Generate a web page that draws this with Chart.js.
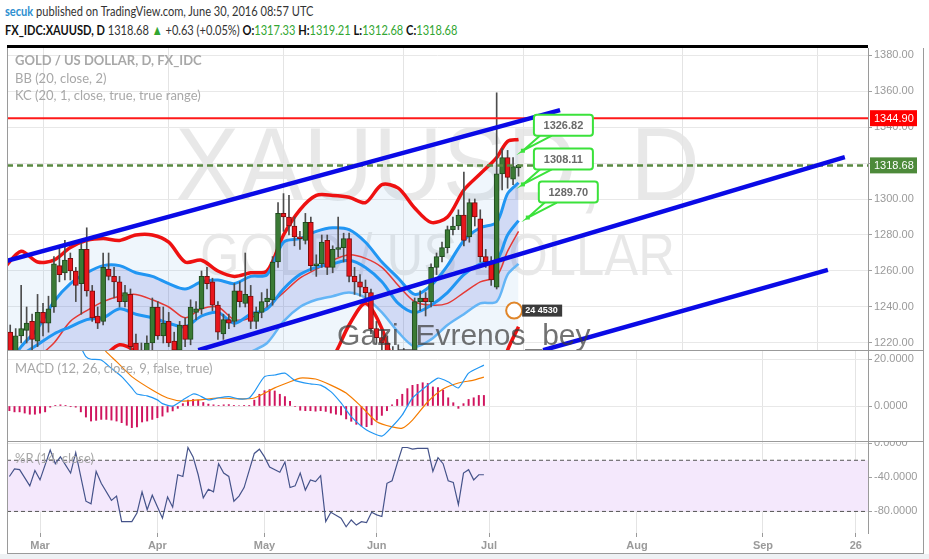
<!DOCTYPE html>
<html>
<head>
<meta charset="utf-8">
<title>XAUUSD daily</title>
<script src="https://cdn.jsdelivr.net/npm/chart.js@4.4.1/dist/chart.umd.min.js"></script>
<style>
  body { margin: 0; width: 929px; height: 559px; position: relative; overflow: hidden; background: #fff; font-family: Lato, "Open Sans", sans-serif; }
  .abs { position: absolute; }
  .pane { position: absolute; left: 7px; width: 916px; }
  .hdr { position: absolute; left: 5px; white-space: nowrap; font-size: 14px; color: #333; transform: scaleX(0.79); transform-origin: 0 0; }
  .hdr .user { color: #2e8fd0; font-weight: bold; }
  .hdr b { color: #111; }
  .hdr .g { color: #32a632; }
  .title { position: absolute; left: 15px; color: #a8a8a8; font-size: 13px; white-space: nowrap; z-index: 5; }
  .rule { position: absolute; background: #9a9a9a; z-index: 6; }
</style>
</head>
<body>
<div class="hdr" style="top:2px"><span class="user">secuk</span> published on TradingView.com, June 30, 2016 08:57 UTC</div>
<div class="hdr" style="top:21px"><b>FX_IDC:XAUUSD, D</b> 1318.68 <span class="g">&#9650;</span> +0.63 (+0.05%) <b>O:</b><span class="g">1317.33</span> <b>H:</b><span class="g">1319.21</span> <b>L:</b><span class="g">1312.68</span> <b>C:</b><span class="g">1318.68</span></div>

<div class="abs" style="left:7px;top:45px;width:861px;height:3px;background:#000;z-index:7"></div>
<div class="pane" style="top:48px;height:302px"><canvas id="priceChart" width="916" height="302"></canvas></div>
<div class="pane" style="top:350px;height:91px"><canvas id="macdChart" width="916" height="91"></canvas></div>
<div class="pane" style="top:441px;height:112px"><canvas id="wrChart" width="916" height="112"></canvas></div>

<div class="title" style="top:52px;font-weight:bold">GOLD / US DOLLAR, D, FX_IDC</div>
<div class="title" style="top:70px">BB (20, close, 2)</div>
<div class="title" style="top:87px">KC (20, 1, close, true, true range)</div>
<div class="title" style="top:360px">MACD (12, 26, close, 9, false, true)</div>
<div class="title" style="top:450px">%R (14, close)</div>

<div class="rule" style="left:7px;top:48px;width:1px;height:505px"></div>
<div class="rule" style="left:923px;top:48px;width:1px;height:505px"></div>
<div class="rule" style="left:7px;top:350px;width:916px;height:1px"></div>
<div class="rule" style="left:7px;top:441px;width:916px;height:1px"></div>
<div class="rule" style="left:7px;top:553px;width:917px;height:1px"></div>
<div class="abs" style="left:0;top:554px;width:929px;height:5px;background:#eef1f4"></div>

<script>
// Trading-day index: 0 = 1 Mar 2016, 23 = 1 Apr, 44 = 2 May, 66 = 1 Jun, 88 = 1 Jul
const firstBar = -6;

const opens = [1226, 1215, 1224, 1227, 1232, 1221,
  1237, 1231, 1240, 1263, 1259, 1267, 1260, 1253, 1272, 1249,
  1235, 1232, 1261, 1257, 1254, 1243, 1247, 1220, 1216, 1212,
  1220, 1240, 1224, 1232, 1221, 1216, 1230, 1222, 1237, 1239,
  1257, 1254, 1241, 1225, 1233, 1232, 1249, 1242, 1246, 1232,
  1237, 1243, 1244, 1265, 1292, 1290, 1285, 1279, 1277, 1287,
  1263, 1264, 1277, 1262, 1272, 1273, 1278, 1257, 1254, 1251,
  1248, 1228, 1223, 1220, 1214, 1208, 1215, 1211, 1210, 1243,
  1245, 1243, 1262, 1268, 1273, 1283, 1285, 1291, 1279, 1298,
  1289, 1268, 1265, 1251, 1314, 1323, 1311, 1317.33];
const highs = [1230, 1228, 1252, 1240, 1236, 1247,
  1242, 1246, 1268, 1274, 1277, 1270, 1262, 1276, 1284, 1252,
  1240, 1270, 1270, 1262, 1257, 1252, 1250, 1225, 1220, 1224,
  1245, 1243, 1240, 1237, 1226, 1232, 1234, 1244, 1243, 1260,
  1262, 1256, 1243, 1236, 1236, 1253, 1254, 1270, 1252, 1240,
  1248, 1250, 1268, 1298, 1303, 1302, 1290, 1282, 1292, 1290,
  1269, 1280, 1280, 1274, 1290, 1281, 1281, 1262, 1258, 1255,
  1250, 1232, 1227, 1224, 1218, 1219, 1217, 1214, 1245, 1249,
  1248, 1264, 1270, 1276, 1285, 1290, 1294, 1315, 1300, 1300,
  1294, 1272, 1268, 1359, 1328, 1327, 1323, 1319.21];
const lows = [1212, 1212, 1220, 1220, 1215, 1218,
  1224, 1226, 1237, 1254, 1255, 1255, 1243, 1236, 1246, 1232,
  1228, 1230, 1255, 1245, 1240, 1240, 1215, 1212, 1208, 1208,
  1215, 1222, 1220, 1218, 1211, 1212, 1218, 1219, 1233, 1236,
  1250, 1238, 1222, 1222, 1228, 1229, 1240, 1240, 1228, 1228,
  1234, 1240, 1241, 1262, 1282, 1280, 1274, 1272, 1275, 1260,
  1257, 1262, 1258, 1259, 1268, 1265, 1254, 1247, 1246, 1243,
  1225, 1220, 1215, 1210, 1204, 1200, 1205, 1204, 1207, 1238,
  1235, 1240, 1258, 1265, 1270, 1280, 1283, 1274, 1276, 1285,
  1265, 1262, 1252, 1250, 1305, 1306, 1308, 1312.68];
const closes = [1215, 1224, 1228, 1231, 1222, 1237,
  1231, 1239, 1264, 1258, 1266, 1260, 1252, 1272, 1249, 1234,
  1231, 1262, 1257, 1254, 1243, 1248, 1218, 1215, 1212, 1220,
  1240, 1224, 1231, 1220, 1216, 1230, 1222, 1240, 1239, 1257,
  1253, 1241, 1226, 1233, 1231, 1249, 1243, 1247, 1232, 1237,
  1243, 1245, 1265, 1292, 1290, 1285, 1279, 1278, 1287, 1263,
  1264, 1276, 1262, 1272, 1273, 1278, 1257, 1254, 1251, 1248,
  1228, 1223, 1220, 1214, 1208, 1215, 1211, 1210, 1243, 1245,
  1243, 1262, 1268, 1273, 1283, 1285, 1291, 1277, 1298, 1290,
  1268, 1265, 1255, 1314, 1323, 1312, 1318, 1318.68];

// Bollinger / Keltner bands, read at these bar indices
const bandX    = [-7, -4, -1, 2, 5, 8, 11, 14, 17, 20, 23, 26, 29, 32, 35, 38, 41, 44, 47, 50, 53, 56, 59, 62, 65, 68, 71, 74, 77, 80, 83, 85, 87];
const bbUpper  = [1262, 1271, 1265, 1266, 1273, 1277, 1278, 1277, 1280, 1280, 1276, 1265, 1266, 1260, 1257, 1259, 1260, 1280, 1294, 1302, 1302, 1301, 1298, 1308, 1306, 1295, 1287, 1290, 1305, 1314, 1323, 1332, 1333];
const bbBasis  = [1196, 1205, 1212, 1220, 1232, 1238, 1243, 1246, 1247, 1244, 1240, 1234, 1239, 1240, 1233, 1234, 1240, 1248, 1256, 1261, 1266, 1269, 1267, 1262, 1252, 1243, 1241, 1242, 1248, 1254, 1257, 1271, 1282];
const bbLower  = [1150, 1152, 1158, 1175, 1195, 1205, 1212, 1219, 1215, 1205, 1202, 1203, 1210, 1212, 1208, 1207, 1212, 1210, 1204, 1205, 1212, 1230, 1242, 1228, 1200, 1188, 1190, 1192, 1190, 1195, 1195, 1216, 1229];
const kcUpper  = [1205, 1218, 1228, 1243, 1253, 1259, 1263, 1263, 1259, 1257, 1253, 1250, 1254, 1255, 1253, 1257, 1258, 1276, 1278, 1282, 1284, 1283, 1276, 1265, 1256, 1247, 1252, 1263, 1277, 1284, 1287, 1303, 1309];
const kcBasis  = [1203, 1213, 1219, 1225, 1229, 1233, 1234, 1239, 1236, 1234, 1231, 1229, 1235, 1237, 1231, 1236, 1239, 1250, 1258, 1262, 1264, 1266, 1262, 1254, 1242, 1237, 1241, 1248, 1258, 1264, 1266, 1280, 1288];
const kcLower  = [1170, 1180, 1188, 1195, 1203, 1207, 1208, 1214, 1210, 1209, 1207, 1206, 1212, 1214, 1210, 1215, 1220, 1232, 1240, 1244, 1246, 1248, 1245, 1237, 1226, 1218, 1222, 1230, 1236, 1242, 1243, 1258, 1264];

// hand-drawn trend lines: [bar index, price] end points
const trendA = [[-6.6, 1265.6], [94.6, 1349.4]];
const trendB = [[28.4, 1216], [146.7, 1323.3]];
const trendC = [[91.5, 1216], [143.6, 1260.6]];
const resistance = 1344.90;
const lastClose = 1318.68;
const calloutValues = [1326.82, 1308.11, 1289.70];
const calloutBars = [87.8, 87.8, 88.7];

// MACD (12, 26, 9)
const macdX   = [8, 9, 10, 12, 14, 16, 18, 19, 21, 23, 24, 26, 28, 30, 31, 33, 35, 37, 39, 41, 42, 44, 46, 48, 50, 53, 55, 57, 59, 61, 64, 67, 69, 71, 73, 76, 78, 80, 82, 84, 87];
const macdY   = [25, 21, 19.9, 19.6, 16, 12.5, 7.7, 5.1, 4.3, 2.6, 1, 0, 2.6, 5.1, 4.7, 2.6, 3.5, 4, 3, 3.4, 6, 12.5, 13.2, 14, 10.8, 9.4, 8.9, 6.1, 1.3, -4.5, -10.2, -12.8, -8.8, -3.8, 3.4, 8.9, 11.9, 10.3, 7.7, 14, 17.4];
const signalX = [12, 13, 15, 18, 22, 25, 28, 31, 35, 39, 42, 46, 49, 51, 54, 57, 60, 63, 66, 69, 71, 73, 76, 79, 82, 85, 87];
const signalY = [26, 23, 18.9, 12.5, 6.8, 3.4, 2.1, 2.6, 3.4, 3, 3.4, 7.7, 10.3, 11.9, 11.5, 8.9, 5.5, -0.3, -6.7, -8.9, -9.4, -6, 1.8, 7.2, 9.8, 11, 12.3];
const histogram = [-2, -2.5, -2.5, -3, -3.5, -3.5, -3, -2.5,
  -0.5, 0.3, 0.5, 0.3, -0.3, -0.5,
  -2.5, -4.7, -6.4, -6.1, -5.7, -5.7, -6, -6.4, -7.1, -8.2, -9.2, -8.9, -6.8, -6.4, -5.7, -5, -4.3, -2.6, -2.1,
  -1, 1, 2.5, 2.8, 2.5, 1.5,
  0.8, 0.5, 0.3, 0.5, 0.6, 0.3, 0.2, 0.3, 0.1,
  2.5, 5, 6.5, 7, 6.4, 5, 4, 2,
  -0.2, -1.8, -2, -2, -2.2, -2, -2.3, -3, -3.5, -3.8, -5.5, -6.5, -7.8, -8.5, -8.8, -8, -6, -4, -2,
  0.5, 2.8, 5, 7.4, 8.8, 9.2, 9.9, 9.6, 8.1, 7.8, 6.8, 3.5, 1.4, -1, 1, 2.8, 3.5, 4.5, 4.5];

// Williams %R (14)
const wrX = [-6, -5, -4, -2, -1, 0, 2, 3, 4, 6, 7, 9, 10, 11, 12, 14, 15, 16, 18, 19, 20, 21, 22, 24, 25, 26, 27, 28, 29, 30, 31, 32, 33, 34, 35, 36, 37, 38, 39, 40, 42, 43, 44, 45, 47, 48, 49, 50, 51, 52, 53, 54, 55, 56, 57, 59, 60, 61, 62, 63, 64, 65, 66, 67, 68, 69, 70, 71, 72, 73, 74, 76, 77, 78, 79, 80, 81, 82, 83, 84, 85, 86, 87];
const wrY = [-39, -30, -31, -50, -32, -43, -8, -24, -16, -35, -11, -68, -71, -33, -47, -67, -62, -92, -92, -82, -57, -78, -61, -88, -63, -75, -37, -39, -5, -16, -37, -64, -54, -57, -24, -35, -39, -68, -62, -52, -12, -7, -16, -28, -34, -22, -52, -50, -35, -55, -43, -45, -38, -92, -81, -88, -98, -90, -96, -92, -93, -81, -84, -86, -47, -44, -24, -5, -5, -7, -6, -6, -33, -17, -24, -44, -46, -72, -35, -31, -43, -37, -37];
const wrBand = [-20, -80];

// time axis
const monthTicks = [0, 23, 44, 66, 88, 117, 141.7, 159.9];
const monthLabels = ['Mar', 'Apr', 'May', 'Jun', 'Jul', 'Aug', 'Sep', '26'];
const priceTicks = [1220, 1240, 1260, 1280, 1300, 1320, 1340, 1360, 1380];

// the price pane is drawn a little wider per bar than the indicator panes
const priceRange = { min: -6.59, max: 150.94 };
const lowerRange = { min: -6.47, max: 162.28 };

const axisFont = { family: 'Liberation Sans', size: 11 };
const pairs = (xs, ys) => xs.map((x, i) => ({ x, y: ys[i] }));

function xAxis(range, showLabels) {
    return {
        type: 'linear', min: range.min, max: range.max, offset: false,
        afterBuildTicks: s => { s.ticks = monthTicks.filter(v => v <= range.max).map(v => ({ value: v })); },
        afterFit: s => { s.height = showLabels ? 20 : 0; s.paddingLeft = 0; s.paddingRight = 0; },
        ticks: {
            display: showLabels, autoSkip: false, maxRotation: 0, padding: 2, color: '#9a9a9a',
            font: { ...axisFont, weight: 'bold' },
            callback: v => monthLabels[monthTicks.indexOf(v)]
        },
        grid: { color: '#e4e4e4', offset: false, drawTicks: showLabels, tickLength: 4, tickColor: '#999' },
        border: { display: false }
    };
}

function yAxis(min, max, ticks, digits) {
    return {
        type: 'linear', position: 'right', min, max, beginAtZero: false,
        afterBuildTicks: s => { s.ticks = ticks.map(v => ({ value: v })); },
        afterFit: s => { s.width = 55; s.paddingTop = 0; s.paddingBottom = 0; },
        ticks: { autoSkip: false, padding: 2, color: '#9a9a9a', font: axisFont, callback: v => v.toFixed(digits) },
        grid: { color: '#e8e8e8', tickLength: 4, tickColor: '#a0a0a0' },
        border: { color: '#9a9a9a' }
    };
}

const baseOptions = {
    responsive: false,
    animation: false,
    devicePixelRatio: 1,
    events: [],
    layout: { padding: 0 },
    plugins: { legend: { display: false }, tooltip: { enabled: false }, filler: { drawTime: 'beforeDatasetsDraw' } }
};

function lineSet(data, color, width, order, extra) {
    return Object.assign({ type: 'line', data, borderColor: color, borderWidth: width, pointRadius: 0, fill: false, order, tension: 0.3 }, extra || {});
}

// background watermark + overlays for the price pane
const priceDecor = {
    id: 'priceDecor',
    beforeDraw(chart) {
        const { ctx, chartArea: a } = chart;
        const cx = (a.left + a.right) / 2;
        ctx.save();
        ctx.fillStyle = 'rgba(0,0,0,0.09)';
        ctx.textAlign = 'center';
        ctx.font = '104px "Liberation Sans"';
        ctx.fillText('XAUUSD, D', cx, a.top + 152, 525);
        ctx.font = '60px "Liberation Sans"';
        ctx.fillText('GOLD / US DOLLAR', cx, a.top + 227, 475);
        ctx.restore();
    },
    afterDraw(chart) {
        const { ctx, scales: { x, y } } = chart;
        ctx.save();
        // author signature
        ctx.fillStyle = 'rgba(60,60,60,0.72)';
        ctx.font = '30px "Liberation Sans"';
        ctx.textBaseline = 'alphabetic';
        ctx.fillText('Gazi_Evrenos_bey', x.getPixelForValue(53.8), y.getPixelForValue(1218.9), 256);

        // event marker
        const ex = x.getPixelForValue(86.2), ey = y.getPixelForValue(1238);
        ctx.beginPath();
        ctx.arc(ex, ey, 8, 0, Math.PI * 2);
        ctx.fillStyle = '#fff'; ctx.fill();
        ctx.strokeStyle = '#e0862a'; ctx.lineWidth = 2; ctx.stroke();
        ctx.fillStyle = '#3b3b3b';
        ctx.fillRect(ex + 8, ey - 6, 40, 12);
        ctx.fillStyle = '#fff';
        ctx.font = 'bold 9px "Liberation Sans"';
        ctx.textBaseline = 'middle';
        ctx.fillText('24 4530', ex + 11, ey);

        // value call-outs
        ctx.font = 'bold 11px "Liberation Sans"';
        ctx.textAlign = 'center';
        calloutValues.forEach((v, i) => {
            const tx = x.getPixelForValue(calloutBars[i]), ty = y.getPixelForValue(v);
            const bx = tx + 11, by = ty - 36, bw = 59, bh = 21;
            ctx.strokeStyle = '#3be23b'; ctx.lineWidth = 2;
            ctx.beginPath();
            ctx.moveTo(bx + 6, by + bh); ctx.lineTo(tx, ty); ctx.lineTo(bx + 18, by + bh);
            ctx.stroke();
            ctx.fillStyle = '#3be23b'; ctx.fillRect(tx - 2, ty - 2, 4, 4);
            ctx.beginPath();
            ctx.roundRect(bx, by, bw, bh, 3);
            ctx.fillStyle = '#fff'; ctx.fill(); ctx.stroke();
            ctx.fillStyle = '#6a6a6a';
            ctx.fillText(v.toFixed(2), bx + bw / 2, by + bh / 2 + 1);
        });

        // price tags on the axis
        [[resistance, '#ff0000'], [lastClose, '#4d8a3a']].forEach(([v, bg]) => {
            const py = y.getPixelForValue(v);
            ctx.fillStyle = bg;
            ctx.fillRect(y.left + 2, py - 8, 47, 16);
            ctx.fillStyle = '#fff';
            ctx.font = '11px "Liberation Sans"';
            ctx.textAlign = 'left';
            ctx.fillText(v.toFixed(2), y.left + 6, py + 1);
        });
        ctx.restore();
    }
};

function initPriceChart() {
    const bars = opens.map((_, i) => firstBar + i);
    const up = bars.map((_, i) => closes[i] >= opens[i]);
    const ends = (range, v) => [{ x: range.min, y: v }, { x: range.max, y: v }];
    const seg = p => p.map(([x, y]) => ({ x, y }));

    new Chart(document.getElementById('priceChart'), {
        type: 'bar',
        data: {
            datasets: [
                lineSet(seg(trendA), '#0a0ae6', 4.5, 0, { tension: 0 }),
                lineSet(seg(trendB), '#0a0ae6', 4.5, 0, { tension: 0 }),
                lineSet(seg(trendC), '#0a0ae6', 4.5, 0, { tension: 0 }),
                lineSet(ends(priceRange, resistance), '#ff1a1a', 2, 1, { tension: 0 }),
                lineSet(ends(priceRange, lastClose), '#5a8a42', 2.5, 1, { tension: 0, borderDash: [6, 4] }),
                {
                    type: 'bar', order: 2, grouped: false, barThickness: 5, borderWidth: 1, borderSkipped: false,
                    data: bars.map((x, i) => ({ x, y: [opens[i], closes[i]] })),
                    backgroundColor: up.map(u => u ? '#3a7a34' : '#e8161c'),
                    borderColor: up.map(u => u ? '#1f4a1e' : '#7d0d0d')
                },
                {
                    type: 'bar', order: 3, grouped: false, barThickness: 1, borderWidth: 0,
                    data: bars.map((x, i) => ({ x, y: [lows[i], highs[i]] })),
                    backgroundColor: '#4d4d4d'
                },
                lineSet(pairs(bandX, kcUpper), '#2196f3', 3, 4, { fill: 9, backgroundColor: 'rgba(60,80,210,0.17)' }),
                lineSet(pairs(bandX, kcBasis), '#2196f3', 3, 4),
                lineSet(pairs(bandX, kcLower), '#64b5f6', 2.5, 4),
                lineSet(pairs(bandX, bbBasis), '#e53935', 1.5, 5),
                lineSet(pairs(bandX, bbUpper), '#ee1111', 3.5, 5, { fill: 12, backgroundColor: 'rgba(120,180,230,0.12)' }),
                lineSet(pairs(bandX, bbLower), '#ee1111', 3.5, 5)
            ]
        },
        options: {
            ...baseOptions,
            scales: { x: xAxis(priceRange, false), y: yAxis(1216.11, 1383.89, priceTicks, 2) }
        },
        plugins: [priceDecor]
    });
}

function initMacdChart() {
    const bars = histogram.map((_, i) => firstBar + i);
    new Chart(document.getElementById('macdChart'), {
        type: 'bar',
        data: {
            datasets: [
                lineSet(pairs(macdX, macdY), '#2196f3', 1.2, 0, { tension: 0.2 }),
                lineSet(pairs(signalX, signalY), '#f57c00', 1.2, 1, { tension: 0.2 }),
                {
                    type: 'bar', order: 2, grouped: false, barThickness: 1.3, borderWidth: 0,
                    data: bars.map((x, i) => ({ x, y: histogram[i] })),
                    backgroundColor: '#d0145e'
                }
            ]
        },
        options: {
            ...baseOptions,
            scales: { x: xAxis(lowerRange, false), y: yAxis(-14.89, 23.83, [0, 20], 4) }
        }
    });
}

function initWilliamsChart() {
    const flat = v => [{ x: lowerRange.min, y: v }, { x: lowerRange.max, y: v }];
    new Chart(document.getElementById('wrChart'), {
        type: 'line',
        data: {
            datasets: [
                lineSet(pairs(wrX, wrY), '#45538a', 1.2, 0, { tension: 0 }),
                lineSet(flat(wrBand[0]), '#555', 1, 1, { tension: 0, borderDash: [4, 3], fill: 2, backgroundColor: '#f4e8fc' }),
                lineSet(flat(wrBand[1]), '#555', 1, 1, { tension: 0, borderDash: [4, 3] })
            ]
        },
        options: {
            ...baseOptions,
            scales: { x: xAxis(lowerRange, true), y: yAxis(-105.3, 2.6, [0, -40, -80], 4) }
        }
    });
}

document.addEventListener('DOMContentLoaded', () => {
    initPriceChart();
    initMacdChart();
    initWilliamsChart();
});
</script>
</body>
</html>
